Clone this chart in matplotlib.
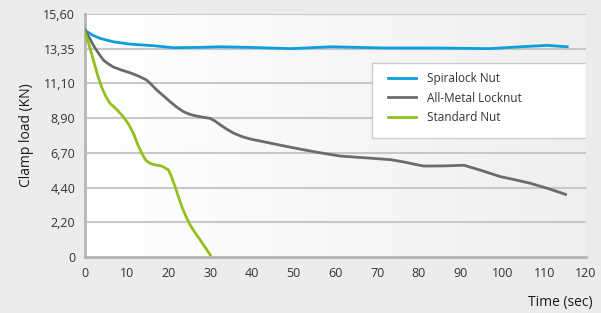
import numpy as np
import matplotlib.pyplot as plt
from matplotlib.patches import Rectangle

# values
spiral_t = [0, 1.8, 3.6, 6.8, 10.8, 16.4, 19, 21.2, 26.8, 32.4, 39.7, 49.3, 58.9, 72, 85, 97, 104.3, 110.7, 115.5]
spiral_kn = [14.55, 14.25, 14.04, 13.82, 13.67, 13.57, 13.5, 13.44, 13.46, 13.5, 13.46, 13.38, 13.5, 13.42, 13.42, 13.38, 13.5, 13.59, 13.5]

metal_t = [0, 1, 2, 3.2, 4.4, 5.6, 6.8, 8.8, 10.8, 12.8, 14.8, 16, 17.2, 18.8, 20.4, 22, 23.6, 25.2, 26.8, 28.4, 30, 31.2, 32.5, 34, 35.7, 37.6,
           39.7, 43.7, 47.7, 51.7, 55.7, 61.2, 67.6, 73.2, 76.4, 79, 81.2, 86, 90.8, 95, 99.5, 103, 106.7, 111, 115.1]
metal_kn = [14.57, 14.1, 13.6, 13.1, 12.65, 12.4, 12.2, 12.0, 11.83, 11.62, 11.36, 11.05, 10.72, 10.35, 9.97, 9.62, 9.33, 9.15, 9.05, 8.97, 8.9, 8.72, 8.47, 8.2, 7.94, 7.73,
            7.57, 7.35, 7.13, 6.92, 6.72, 6.48, 6.36, 6.25, 6.1, 5.95, 5.84, 5.85, 5.89, 5.55, 5.16, 4.96, 4.73, 4.39, 4.02]

std_t = [0, 1, 2, 3, 4, 5, 6, 7.5, 9.2, 10.5, 11.6, 12.6, 13.6, 14.6, 15.6, 17, 18.4, 19.3, 20.0, 20.8, 21.6, 22.4, 23.2, 24.2, 25.2, 26.4, 27.6, 30]
std_kn = [14.45, 13.6, 12.65, 11.7, 10.9, 10.3, 9.87, 9.5, 9.0, 8.5, 7.94, 7.25, 6.66, 6.2, 6.01, 5.9, 5.84, 5.7, 5.59, 5.1, 4.51, 3.85, 3.23, 2.6, 2.05, 1.55, 1.09, 0.13]

ytick_labels = ['0', '2,20', '4,40', '6,70', '8,90', '11,10', '13,35', '15,60']
xticks = np.arange(0, 121, 10)

plt.rcParams['font.family'] = ['Open Sans', 'DejaVu Sans']

fig = plt.figure(figsize=(6.01, 3.13), dpi=100, facecolor='#ebeceb')
ax = fig.add_axes([0.1414, 0.179, 0.8336, 0.776])
ax.set_xlim(0, 120)
ax.set_ylim(0, 15.6)

# plot area background: white on the left fading to light grey
grad = np.linspace(0, 1, 256).reshape(1, -1)
ax.imshow(grad, extent=[0, 120, 0, 15.6], aspect='auto', zorder=0,
          cmap=plt.matplotlib.colors.LinearSegmentedColormap.from_list('bg', ['#ffffff', '#eeefee']))

yt = np.linspace(0, 15.6, 8)
ax.set_yticks(yt)
ax.set_yticklabels(ytick_labels)
ax.set_xticks(xticks)
for y in yt[1:]:
    ax.axhline(y, color='#c8c8c8', lw=1.5, zorder=1)

ax.plot(spiral_t, spiral_kn, color='#0a9fe0', lw=2, label='Spiralock Nut', zorder=3)
ax.plot(metal_t, metal_kn, color='#6b6b6d', lw=2, label='All-Metal Locknut', zorder=3)
ax.plot(std_t, std_kn, color='#92c01e', lw=2, label='Standard Nut', zorder=3)

for s in ['top', 'right']:
    ax.spines[s].set_visible(False)
for s in ['left', 'bottom']:
    ax.spines[s].set_color('#b4b4b4')
    ax.spines[s].set_linewidth(2)
ax.tick_params(length=0, labelsize=9, colors='#333333')
ax.tick_params(axis='y', pad=7)
ax.tick_params(axis='x', pad=7)

ax.set_ylabel('Clamp load (KN)', fontsize=10, color='#1a1a1a', labelpad=7)
fig.text(0.986, 0.01, 'Time (sec)', ha='right', va='bottom', fontsize=10, color='#1a1a1a')

# legend box is wider than the entries, so draw the frame separately
ax.add_patch(Rectangle((0.573, 0.49), 0.427, 0.308, transform=ax.transAxes,
                       facecolor='white', edgecolor='#cccccc', lw=1, zorder=4))
leg = ax.legend(loc='upper left', bbox_to_anchor=(0.605, 0.762), frameon=False,
                fontsize=8.5, handlelength=2.37, handletextpad=0.93, borderpad=0,
                labelspacing=0.56, borderaxespad=0)
leg.set_zorder(5)
for t in leg.get_texts():
    t.set_color('#333333')

plt.savefig('out.png', dpi=100, facecolor=fig.get_facecolor())
